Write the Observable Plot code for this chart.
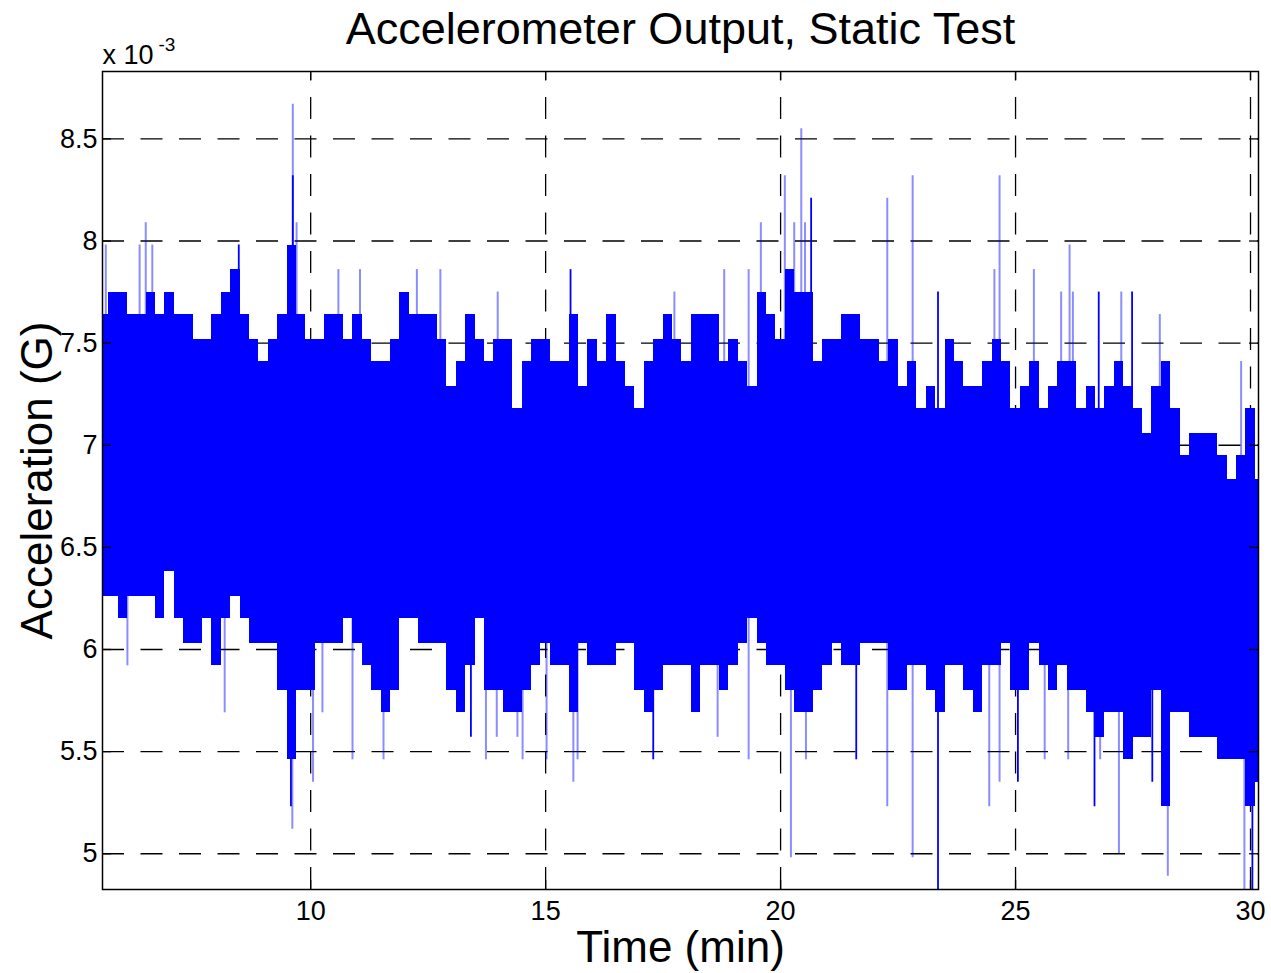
<!DOCTYPE html>
<html><head><meta charset="utf-8">
<script src="https://cdn.jsdelivr.net/npm/d3@7"></script>
<script src="https://cdn.jsdelivr.net/npm/@observablehq/plot@0.6"></script>
<style>body{margin:0;background:#fff;} svg{overflow:visible;} </style>
</head><body><div id="chart"></div>
<script>
// Time bins (min), dense-band upper and lower edges (x 10^-3 G)
const binT = [5.6,5.8,6.0,6.2,6.4,6.6,6.8,7.0,7.2,7.4,7.6,7.8,8.0,8.2,8.4,8.6,8.8,9.0,9.2,9.4,9.6,9.8,10.0,10.2,10.4,
  10.6,10.8,11.0,11.2,11.4,11.6,11.8,12.0,12.2,12.4,12.6,12.8,13.0,13.2,13.4,13.6,13.8,14.0,14.2,14.4,14.6,14.8,15.0,15.2,15.4,
  15.6,15.8,16.0,16.2,16.4,16.6,16.8,17.0,17.2,17.4,17.6,17.8,18.0,18.2,18.4,18.6,18.8,19.0,19.2,19.4,19.6,19.8,20.0,20.2,20.4,
  20.6,20.8,21.0,21.2,21.4,21.6,21.8,22.0,22.2,22.4,22.6,22.8,23.0,23.2,23.4,23.6,23.8,24.0,24.2,24.4,24.6,24.8,25.0,25.2,
  25.4,25.6,25.8,26.0,26.2,26.4,26.6,26.8,27.0,27.2,27.4,27.6,27.8,28.0,28.2,28.4,28.6,28.8,29.0,29.2,29.4,29.6,29.8,30.0,30.2];
const binHi = [7.64,7.75,7.75,7.64,7.64,7.75,7.64,7.75,7.64,7.64,7.52,7.52,7.64,7.75,7.86,7.64,7.52,7.41,7.52,7.64,7.98,7.64,7.52,7.52,7.64,
  7.64,7.52,7.64,7.52,7.41,7.41,7.52,7.75,7.64,7.64,7.64,7.52,7.29,7.41,7.64,7.52,7.41,7.52,7.52,7.18,7.41,7.52,7.52,7.41,7.41,
  7.64,7.29,7.52,7.41,7.64,7.41,7.29,7.18,7.41,7.52,7.64,7.52,7.41,7.64,7.64,7.64,7.41,7.52,7.41,7.29,7.75,7.64,7.52,7.86,7.75,
  7.75,7.41,7.52,7.52,7.64,7.64,7.52,7.52,7.41,7.52,7.29,7.41,7.18,7.29,7.18,7.52,7.41,7.29,7.29,7.41,7.52,7.41,7.18,7.29,
  7.41,7.18,7.29,7.41,7.41,7.18,7.29,7.18,7.29,7.41,7.29,7.18,7.06,7.29,7.41,7.18,6.95,7.06,7.06,7.06,6.95,6.83,6.95,7.18,6.83];
const binLo = [6.26,6.26,6.15,6.26,6.26,6.26,6.15,6.38,6.15,6.03,6.03,6.15,5.92,6.15,6.26,6.15,6.03,6.03,6.03,5.80,5.46,5.80,5.80,6.03,6.03,
  6.03,6.15,6.03,5.92,5.80,5.69,5.80,6.15,6.15,6.03,6.03,6.03,5.80,5.69,5.92,6.15,5.80,5.80,5.69,5.69,5.80,5.92,6.03,5.92,5.92,
  5.69,6.03,5.92,5.92,5.92,6.03,6.03,5.80,5.69,5.80,5.92,5.92,5.92,5.69,5.92,5.92,5.80,5.92,6.03,6.15,6.03,5.92,5.92,5.80,5.69,
  5.69,5.80,5.92,6.03,5.92,5.92,6.03,6.03,6.03,5.80,5.80,5.92,5.92,5.80,5.69,5.92,5.92,5.80,5.69,5.92,5.92,6.03,5.80,5.80,
  6.03,5.92,5.80,5.92,5.80,5.80,5.69,5.57,5.69,5.69,5.46,5.57,5.57,5.80,5.23,5.69,5.69,5.57,5.57,5.57,5.46,5.46,5.46,5.23,5.35];

// Isolated spikes: time (min), extreme value (x 10^-3 G), 1 = solid, 0 = faint
const spikeT = [5.64,6.36,6.49,6.63,8.47,9.62,9.62,9.70,6.10,8.17,9.61,9.58,10.05,10.25,
  10.59,11.05,12.26,12.76,13.98,10.89,11.55,13.73,13.41,13.96,14.40,14.51,15.02,
  15.53,17.74,18.80,19.32,19.58,20.09,20.29,15.59,15.68,17.29,18.66,19.32,20.22,
  20.44,20.52,20.65,22.27,22.81,23.35,24.55,24.66,20.54,21.61,22.27,22.81,23.35,24.44,24.66,25.05,
  25.39,25.97,26.15,26.22,26.77,27.25,27.48,28.07,29.80,25.62,26.12,26.68,26.80,27.20,27.91,28.24,29.87,30.04];
const spikeV = [7.98,7.98,8.09,7.98,7.98,8.67,8.32,8.09,5.92,5.69,5.12,5.23,5.35,5.69,
  7.86,7.86,7.86,7.86,7.75,5.46,5.46,5.46,5.57,5.57,5.57,5.46,5.46,
  7.86,7.75,7.86,7.86,8.09,8.32,8.09,5.35,5.46,5.46,5.57,5.46,4.98,
  8.55,8.09,8.21,8.21,8.32,7.75,7.86,8.32,5.46,5.46,5.23,4.98,4.80,5.23,5.35,5.35,
  7.86,7.75,7.98,7.75,7.75,7.75,7.75,7.64,7.41,5.46,5.46,5.23,5.46,5.00,5.35,4.89,4.80,4.80];
const spikeDark = [0,0,0,0,1,0,1,0,0,0,0,1,0,0,
  0,0,0,0,0,0,0,0,1,0,0,0,0,
  1,0,0,0,0,0,0,0,0,1,0,0,0,
  0,0,1,0,0,1,0,0,0,1,0,0,1,0,0,1,
  0,0,0,0,1,0,1,0,0,0,0,1,0,0,1,0,0,1];

const xTicks = [10,15,20,25,30];
const yTicks = [5,5.5,6,6.5,7,7.5,8,8.5];
const xDomain = [5.57,30.17];
const yDomain = [4.825,8.83];

const bins = binT.map((t,i)=>({t, hi: binHi[i], lo: binLo[i]}));
const spikes = spikeT.map((t,i)=>({t, v: spikeV[i], dark: spikeDark[i]}));
const bandMid = 6.7;

const W = 1271, H = 973, mL = 102, mR = 13, mT = 71, mB = 84;
const pw = W - mL - mR, ph = H - mT - mB;
const font = "'Liberation Sans', Arial, Helvetica, sans-serif";
const blue = "#0000ff";

const chart = Plot.plot({
  width: W, height: H,
  marginLeft: mL, marginRight: mR, marginTop: mT, marginBottom: mB,
  style: {fontFamily: font, background: "#fff", color: "#000"},
  x: {domain: xDomain, ticks: xTicks, label: null},
  y: {domain: yDomain, ticks: yTicks, label: null},
  marks: [
    Plot.ruleY(yTicks, {stroke: "#000", strokeWidth: 1.3, strokeDasharray: "22,16.5"}),
    Plot.ruleX(xTicks, {y1: yDomain[0], y2: yDomain[1], stroke: "#000", strokeWidth: 1.3, strokeDasharray: "22,16.5"}),
    Plot.rect(bins, {x1: d => d.t - 0.1, x2: d => d.t + 0.1, y1: "lo", y2: "hi", fill: blue, shapeRendering: "crispEdges", clip: true}),
    Plot.ruleX(spikes.filter(d => !d.dark), {x: "t", y1: "v", y2: bandMid, stroke: blue, strokeOpacity: 0.45, strokeWidth: 2, clip: true}),
    Plot.ruleX(spikes.filter(d => d.dark), {x: "t", y1: "v", y2: bandMid, stroke: blue, strokeWidth: 1.8, clip: true}),
    // inward ticks
    Plot.ruleY(yTicks, {stroke: "#000", strokeWidth: 1.3, insetRight: pw - 9}),
    Plot.ruleY(yTicks, {stroke: "#000", strokeWidth: 1.3, insetLeft: pw - 9}),
    Plot.ruleX(xTicks, {stroke: "#000", strokeWidth: 1.3, insetTop: ph - 9}),
    Plot.ruleX(xTicks, {stroke: "#000", strokeWidth: 1.3, insetBottom: ph - 9}),
    Plot.frame({stroke: "#000", strokeWidth: 1.5}),
    Plot.axisX(xTicks, {tickSize: 0, tickPadding: 11, fontSize: 27, label: null}),
    Plot.axisY(yTicks, {tickSize: 0, tickPadding: 5, fontSize: 27, label: null, tickFormat: d3.format("~g")}),
    Plot.text(["Accelerometer Output, Static Test"], {frameAnchor: "top", dy: -42, lineAnchor: "middle", fontSize: 45}),
    Plot.text(["Time (min)"], {frameAnchor: "bottom", dy: 58, lineAnchor: "middle", fontSize: 44}),
    Plot.text(["Acceleration (G)"], {frameAnchor: "left", dx: -65, rotate: -90, lineAnchor: "middle", textAnchor: "middle", fontSize: 44}),
    Plot.text(["x 10"], {frameAnchor: "top-left", dy: -8, lineAnchor: "bottom", textAnchor: "start", fontSize: 27}),
    Plot.text(["-3"], {frameAnchor: "top-left", dx: 56, dy: -21, lineAnchor: "bottom", textAnchor: "start", fontSize: 19})
  ]
});
document.getElementById("chart").append(chart);
</script>
</body></html>
